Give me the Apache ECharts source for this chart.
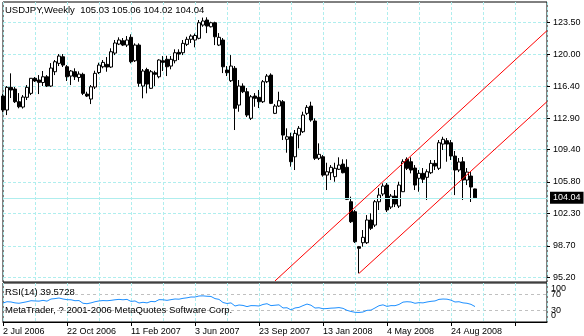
<!DOCTYPE html>
<html>
<head>
<meta charset="utf-8">
<script src="https://cdn.jsdelivr.net/npm/echarts@6/dist/echarts.min.js"></script>
<style>
html,body{margin:0;padding:0;background:#fff;}
#chart{width:584px;height:336px;}
</style>
</head>
<body>
<div id="chart"></div>
<script>
// ---- data ----
var dateLabels = ['2 Jul 2006','22 Oct 2006','11 Feb 2007','3 Jun 2007','23 Sep 2007','13 Jan 2008','4 May 2008','24 Aug 2008'];
var priceTicks = [95.20, 98.70, 102.30, 105.80, 109.40, 112.90, 116.40, 120.00, 123.50];
var rsiLevels = [30, 70];
var rsiBounds = [0, 100];
var openP = [115.34,113.79,116.31,116.12,114.71,114.12,115.20,115.64,117.31,117.12,116.84,117.48,116.45,118.04,118.97,119.70,118.59,117.56,118.04,117.40,
117.75,115.56,115.01,116.34,117.95,118.59,118.86,118.56,120.11,121.11,121.48,121.00,121.86,119.26,121.00,116.45,118.28,116.20,117.93,117.48,
119.26,119.42,118.67,119.26,120.19,120.15,121.08,121.64,121.56,121.75,123.22,123.78,123.03,123.48,121.00,121.56,118.23,117.04,118.42,114.34,
116.45,115.82,112.87,115.34,115.20,114.71,116.93,117.67,113.42,114.23,114.71,110.54,110.82,108.60,111.01,111.38,113.42,114.23,112.57,108.43,
108.60,106.57,106.83,106.39,107.21,107.79,107.43,103.61,102.50,98.62,99.06,99.06,101.58,101.02,103.61,104.47,105.46,103.02,104.24,103.13,
104.72,108.32,108.05,107.35,106.21,106.76,106.32,106.83,107.87,107.32,110.01,110.38,110.16,108.68,107.13,108.05,106.02,106.46,105.03];
var highP = [115.56,116.45,117.86,116.34,115.67,115.45,116.56,117.34,117.45,117.67,118.12,117.67,119.00,119.34,120.00,120.00,118.78,118.23,118.42,118.08,
117.93,115.82,116.56,118.15,119.04,119.34,119.67,120.64,121.56,121.86,121.78,122.00,122.19,121.19,121.19,118.34,118.48,118.23,118.15,119.42,
119.78,119.81,119.78,120.53,120.53,121.56,121.92,122.19,122.28,123.78,124.05,124.08,123.59,123.59,122.33,121.78,118.67,119.89,118.67,117.12,
116.75,116.23,115.45,115.67,116.01,117.12,117.78,117.86,114.45,115.82,114.90,111.76,111.27,111.57,112.01,113.60,114.34,114.71,112.87,110.09,
108.79,107.94,107.68,107.94,108.54,108.32,108.32,104.17,102.69,98.70,100.47,102.13,102.32,103.80,105.13,105.65,105.69,104.47,104.91,105.83,
108.32,108.54,108.54,107.68,107.13,107.35,107.21,108.24,108.24,110.46,110.82,110.68,110.46,109.24,108.46,108.57,107.35,106.90,105.06];
var lowP = [113.57,113.23,115.12,114.57,113.98,113.95,114.90,115.45,116.90,115.56,116.45,116.34,116.34,117.67,118.67,118.56,117.01,116.56,117.12,116.93,
115.45,115.23,114.45,116.12,117.78,118.42,118.04,118.45,119.89,121.00,120.89,120.78,118.97,119.12,116.37,115.09,115.64,116.12,116.45,117.31,
118.12,117.56,118.31,118.97,119.34,119.89,120.89,121.23,120.75,121.64,123.03,122.33,122.95,121.00,120.89,117.89,117.56,116.90,111.57,113.60,
115.67,113.01,112.68,114.15,114.01,114.57,116.78,114.45,113.34,114.12,110.46,109.05,107.50,107.13,109.54,111.24,113.23,112.49,108.24,108.24,
106.39,104.91,106.02,105.83,107.13,106.76,103.80,101.25,99.03,95.66,98.62,98.92,100.47,100.80,102.69,104.24,102.47,102.80,103.02,102.91,
104.69,107.13,106.76,104.91,104.72,105.69,103.80,106.68,107.13,107.13,109.35,108.05,108.24,104.35,106.90,103.80,105.46,103.58,104.02];
var closeP = [113.79,116.31,116.01,114.71,114.15,115.23,116.31,117.31,117.01,116.86,117.48,116.45,118.45,119.15,119.78,118.78,117.48,118.12,117.48,117.78,
115.64,115.34,116.37,117.86,118.78,119.08,118.56,120.26,121.23,121.56,121.00,121.56,119.15,121.00,116.75,118.12,116.67,118.04,117.75,119.34,
119.08,118.59,119.42,120.15,120.00,121.19,121.64,122.00,122.06,123.48,123.67,123.11,123.48,121.92,121.86,118.59,117.93,118.67,113.98,116.45,
115.82,113.23,115.26,115.09,114.71,116.93,117.56,114.53,114.23,114.82,111.01,110.82,108.05,111.20,111.76,113.23,114.09,112.68,108.43,108.87,
106.57,106.94,107.43,107.32,107.68,106.83,103.88,101.39,99.17,98.44,99.66,101.58,100.66,103.61,104.35,105.35,102.69,104.24,103.35,105.46,
108.05,107.32,107.13,105.46,106.76,106.10,106.94,107.87,107.57,110.16,110.54,110.01,108.68,107.13,108.02,106.02,106.90,105.24,104.04];
var rsiValues = [48.7,52,51.3,49,48,50,52,54.6,54,53.5,55.5,53.5,58.9,60,61.5,59,57.3,57,54.6,55,
48,46.9,49,52,54,55,54.5,55.5,57,58,57,58,52.8,54,48.7,50.5,49,52.8,52,57.3,
57,55.5,57.3,59,58.5,60.7,62,64.1,64,66.7,67,66,65.5,60,58,50,47.5,49,41,43.6,
42.5,39.5,42,41.8,41,45,46.9,42,43,44,36,36.5,31,36,37.5,42,46,43,35.8,36.5,
34,34.5,35.5,36,37,35,29.9,27,24.8,24.5,25.6,29.9,30.5,36,41.8,44,40,42,41.8,45,
51,52,51.3,48,49.6,49,51.3,53,54,58,58.9,58.5,56,51.3,52,49,48,45.2,39.57];
var lastPrice = 104.04;
var channelUpper = [[68, 94.82], [136, 122.60]];
var channelLower = [[89, 95.66], [136, 114.72]];
var weekCount = 137;

// ---- build options ----
var categories = [];
var startMs = Date.UTC(2006, 6, 2);
for (var i = 0; i < weekCount; i++) {
  var d = new Date(startMs + i * 7 * 86400000);
  categories.push(d.toISOString().slice(0, 10));
}
var candles = openP.map(function (o, k) { return [o, closeP[k], lowP[k], highP[k]]; });

var FONT = 'Liberation Sans';
var gridColor = '#AFEEEE';
var dash = [3, 2];
var txt = { fontSize: 9.5, fontWeight: 'normal', color: '#000', fontFamily: FONT };

var chart = echarts.init(document.getElementById('chart'), null, { renderer: 'canvas' });
chart.setOption({
  animation: false,
  backgroundColor: '#fff',
  textStyle: { fontFamily: FONT },
  title: [
    { text: 'USDJPY,Weekly  105.03 105.06 104.02 104.04', left: 5, top: 5, padding: 0, textStyle: txt },
    { text: 'RSI(14) 39.5728', left: 5, top: 287, padding: 0, textStyle: txt },
    { text: 'MetaTrader, ? 2001-2006 MetaQuotes Software Corp.', left: 5, top: 305, padding: 0, textStyle: txt }
  ],
  grid: [
    { left: 3, top: 2, width: 544, height: 280, show: true, borderColor: '#000', borderWidth: 1, backgroundColor: 'transparent' },
    { left: 3, top: 283, width: 544, height: 39, show: true, borderColor: '#000', borderWidth: 1, backgroundColor: 'transparent' }
  ],
  xAxis: [
    { type: 'category', gridIndex: 0, data: categories, boundaryGap: false,
      axisLine: { show: false }, axisTick: { show: false }, axisLabel: { show: false },
      splitLine: { show: true, interval: 7, lineStyle: { color: gridColor, type: dash, width: 1 } } },
    { type: 'category', gridIndex: 1, data: categories, boundaryGap: false,
      axisLine: { show: true, lineStyle: { color: '#000', width: 1 } },
      axisTick: { show: true, interval: 15, length: 4, lineStyle: { color: '#000' } },
      axisLabel: { show: true, interval: 15, align: 'left', margin: 5, fontSize: 9, color: '#000', fontFamily: FONT,
        formatter: function (v, idx) { return dateLabels[idx / 16] || ''; } },
      splitLine: { show: true, interval: 7, lineStyle: { color: gridColor, type: dash, width: 1 } } }
  ],
  yAxis: [
    { type: 'value', gridIndex: 0, position: 'right', min: 94.70, max: 125.78,
      axisLine: { show: false },
      axisTick: { show: true, customValues: priceTicks, length: 3, lineStyle: { color: '#000' } },
      axisLabel: { customValues: priceTicks, margin: 6, fontSize: 9, color: '#000', fontFamily: FONT,
        formatter: function (v) { return v.toFixed(2); } },
      splitLine: { show: true, lineStyle: { color: gridColor, type: dash, width: 1 } } },
    { type: 'value', gridIndex: 1, position: 'right', min: 0, max: 100,
      axisLine: { show: false },
      axisTick: { show: false, customValues: rsiLevels },
      axisLabel: { customValues: rsiLevels, margin: 4, fontSize: 9, color: '#000', fontFamily: FONT,
        showMinLabel: true, showMaxLabel: true },
      splitLine: { show: true, lineStyle: { color: '#c0c0c0', type: [3, 3], width: 1 } } },
    { type: 'value', gridIndex: 1, position: 'right', min: 0, max: 100,
      axisLine: { show: false },
      axisTick: { show: false, customValues: rsiBounds },
      splitLine: { show: false },
      axisLabel: { customValues: rsiBounds, margin: 4, fontSize: 9, color: '#000', fontFamily: FONT,
        showMinLabel: true, showMaxLabel: true,
        formatter: function (v) { return v === 100 ? '{t|100}' : '{b|0}'; },
        rich: { t: { padding: [12, 0, 0, 0], fontSize: 9, color: '#000' }, b: { padding: [0, 0, 12, 0], fontSize: 9, color: '#000' } } } }
  ],
  series: [
    { type: 'candlestick', xAxisIndex: 0, yAxisIndex: 0, data: candles, barWidth: 3,
      itemStyle: { color: '#fff', color0: '#000', borderColor: '#000', borderColor0: '#000', borderWidth: 1 },
      emphasis: { disabled: true },
      markLine: { silent: true, symbol: ['none', 'none'], animation: false,
        data: [{ yAxis: lastPrice }],
        lineStyle: { color: gridColor, type: 'solid', width: 1 },
        label: { show: true, position: 'end', distance: 3, formatter: lastPrice.toFixed(2),
          backgroundColor: '#000', color: '#fff', padding: [2, 3, 1, 3], fontSize: 9, fontFamily: FONT } } },
    { type: 'line', xAxisIndex: 0, yAxisIndex: 0, data: channelUpper, symbol: 'none', z: 5,
      lineStyle: { color: '#ff0000', width: 1 }, silent: true },
    { type: 'line', xAxisIndex: 0, yAxisIndex: 0, data: channelLower, symbol: 'none', z: 5,
      lineStyle: { color: '#ff0000', width: 1 }, silent: true },
    { type: 'line', xAxisIndex: 1, yAxisIndex: 1, data: rsiValues, symbol: 'none',
      lineStyle: { color: '#1E90FF', width: 1 }, silent: true }
  ]
});
</script>
</body>
</html>
